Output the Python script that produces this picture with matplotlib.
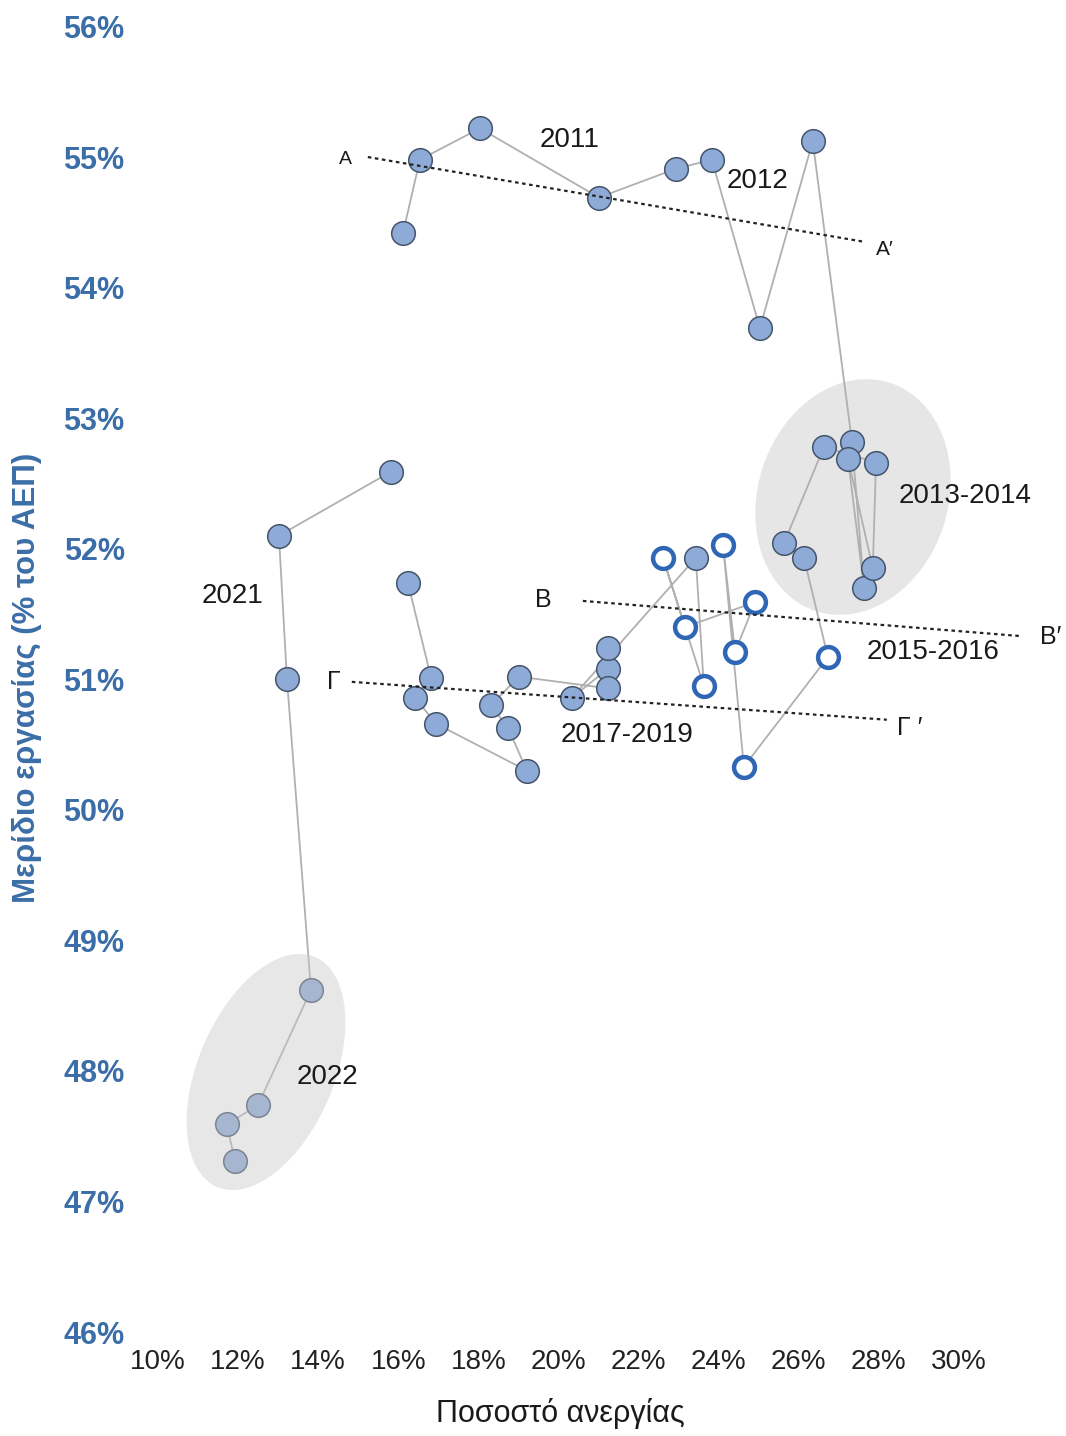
import matplotlib
matplotlib.use("Agg")
import matplotlib.pyplot as plt
from matplotlib.patches import Ellipse
from matplotlib.transforms import IdentityTransform

plt.rcParams['font.family'] = ['Liberation Sans', 'DejaVu Sans']

# ---- data (unemployment rate %, labour share % of GDP) ----
u_11_12 = [16.12, 16.54, 18.04, 21.01, 22.93, 23.83, 25.03, 26.35]
s_11_12 = [54.42, 54.98, 55.22, 54.69, 54.91, 54.98, 53.69, 55.12]
u_13_14 = [27.33, 27.63, 27.23, 27.85, 27.93, 26.63, 25.63, 26.13]
s_13_14 = [52.82, 51.70, 52.69, 51.85, 52.66, 52.78, 52.04, 51.93]
u_15_16 = [26.73, 24.63, 24.11, 24.41, 24.91, 23.16, 22.61, 23.63]
s_15_16 = [51.17, 50.33, 52.03, 51.21, 51.59, 51.40, 51.93, 50.95]
u_17_19 = [23.43, 20.34, 21.24, 21.24, 21.24, 19.01, 18.31, 18.74, 19.21,
           16.94, 16.42, 16.82, 16.24]
s_17_19 = [51.93, 50.86, 51.08, 51.24, 50.93, 51.02, 50.80, 50.63, 50.30,
           50.66, 50.86, 51.01, 51.74]
u_21_22 = [15.82, 13.02, 13.22, 13.82, 12.50, 11.72, 11.92]
s_21_22 = [52.59, 52.10, 51.00, 48.62, 47.74, 47.59, 47.31]

# dotted trend lines
line_A_x, line_A_y = [15.24, 27.65], [55.00, 54.35]
line_B_x, line_B_y = [20.61, 31.57], [51.60, 51.33]
line_G_x, line_G_y = [14.84, 28.20], [50.98, 50.69]

x_ticks = [10, 12, 14, 16, 18, 20, 22, 24, 26, 28, 30]
y_ticks = [46, 47, 48, 49, 50, 51, 52, 53, 54, 55, 56]

labels = [("2011", 20.29, 55.13, 20), ("2012", 24.98, 54.82, 20),
          ("2013-2014", 30.15, 52.40, 20), ("2015-2016", 29.35, 51.21, 20),
          ("2017-2019", 21.71, 50.57, 20), ("2021", 11.87, 51.64, 20),
          ("2022", 14.24, 47.95, 20),
          ("Α", 14.67, 54.98, 14), ("Α′", 28.15, 54.29, 15),
          ("Β", 19.61, 51.61, 18), ("Β′", 32.30, 51.32, 18),
          ("Γ", 14.39, 50.98, 18), ("Γ ′", 28.78, 50.63, 18)]

BLUE_TXT = '#3b6ea8'
FILL = '#8eaad6'
EDGE = '#44546a'
OPEN_EDGE = '#3066b6'
LINE = '#b0b0b0'

W, H = 1066, 1436
fig = plt.figure(figsize=(W / 100, H / 100), dpi=100)
ax = fig.add_axes([158 / W, 104 / H, 901 / W, 1305.5 / H])
ax.set_xlim(10, 32.5)
ax.set_ylim(46, 56)
for sp in ax.spines.values():
    sp.set_visible(False)
ax.set_xticks(x_ticks)
ax.set_xticklabels([f"{v}%" for v in x_ticks], fontsize=20, color='#222222')
ax.set_yticks(y_ticks)
ax.set_yticklabels([f"{v}%" for v in y_ticks], fontsize=22, color=BLUE_TXT,
                   fontweight='bold')
ax.tick_params(axis='both', length=0)
ax.tick_params(axis='y', pad=24)
ax.tick_params(axis='x', pad=12)

# ellipses (drawn in pixel space, inside the axes)
def pix_ellipse(cx_px, cy_px, w, h, ang, **kw):
    e = Ellipse((cx_px, H - cy_px), w, h, angle=ang,
                transform=IdentityTransform(), clip_on=False, **kw)
    ax.add_artist(e)
    return e

pix_ellipse(853, 497, 240, 190, 72, facecolor='#e6e6e6', edgecolor='none', zorder=0.5)

# chain 1: 2011 - 2019
u1 = u_11_12 + u_13_14 + u_15_16 + u_17_19
s1 = s_11_12 + s_13_14 + s_15_16 + s_17_19
ax.plot(u1, s1, color=LINE, lw=1.3, zorder=2)
ax.plot(u_11_12 + u_13_14, s_11_12 + s_13_14, ls='none', marker='o', ms=17,
        mfc=FILL, mec=EDGE, mew=1.1, zorder=3)
ax.plot(u_15_16, s_15_16, ls='none', marker='o', ms=15, mfc='white',
        mec=OPEN_EDGE, mew=3.2, zorder=3)
ax.plot(u_17_19, s_17_19, ls='none', marker='o', ms=17, mfc=FILL, mec=EDGE,
        mew=1.1, zorder=3)

# chain 2: 2021 - 2022
ax.plot(u_21_22, s_21_22, color=LINE, lw=1.3, zorder=2)
ax.plot(u_21_22, s_21_22, ls='none', marker='o', ms=17, mfc=FILL, mec=EDGE,
        mew=1.1, zorder=3)

# translucent ellipse over 2022 points
pix_ellipse(266, 1072, 250, 136, 67, facecolor='#c8c8c8', edgecolor='none',
            alpha=0.42, zorder=4)

# dotted lines
for lx, ly in [(line_A_x, line_A_y), (line_B_x, line_B_y), (line_G_x, line_G_y)]:
    ax.plot(lx, ly, color='#222222', lw=1.6, ls=(0, (1.6, 1.6)), zorder=5)

for txt, x, y, fs in labels:
    ax.text(x, y, txt, fontsize=fs, ha='center', va='center', color='#1a1a1a',
            zorder=6)

fig.text(27 / W, 1 - 678 / H, "Μερίδιο εργασίας (% του ΑΕΠ)", rotation=90,
         ha='center', va='center', fontsize=22.5, fontweight='bold', color=BLUE_TXT)
fig.text(560 / W, 1 - 1422 / H, "Ποσοστό ανεργίας", ha='center', va='baseline',
         fontsize=22, color='#1a1a1a')

fig.savefig("out.png", dpi=100)
